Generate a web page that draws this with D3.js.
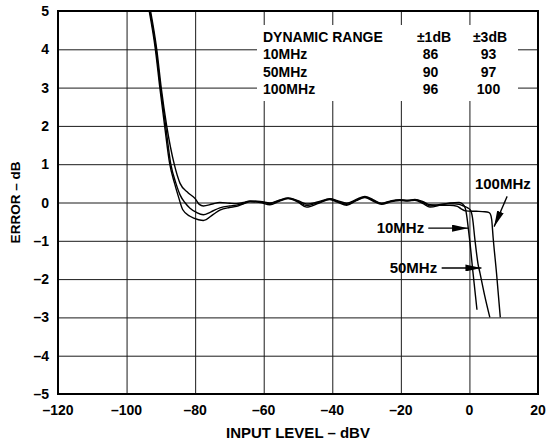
<!DOCTYPE html>
<html><head><meta charset="utf-8">
<script src="https://cdn.jsdelivr.net/npm/d3@7"></script>
<style>body{margin:0;background:#fff}</style>
</head><body>
<svg id="chart" width="548" height="442"></svg>
<script>
// ---- data ----
const xTicks = [-120, -100, -80, -60, -40, -20, 0, 20];
const yTicks = [5, 4, 3, 2, 1, 0, -1, -2, -3, -4, -5];

const series10MHz = [[-93.4,5.0],[-91.6,4.0],[-90.3,3.0],[-88.9,2.0],[-87.4,1.0],[-86.0,0.5],[-84.9,0.16],[-83.6,-0.19],[-81.5,-0.36],[-79.0,-0.45],[-77.6,-0.47],[-74.7,-0.31],[-72.8,-0.2],[-70,-0.13],[-67.9,-0.1],[-66,-0.04],[-64,0.02],[-61,0.0],[-58.2,-0.06],[-55.5,0.03],[-52.9,0.1],[-50,0.01],[-47.5,-0.12],[-44,-0.02],[-40.7,0.08],[-38.5,0.01],[-35.8,-0.07],[-33,0.05],[-30.5,0.13],[-28,0.03],[-25.6,-0.05],[-23,0.02],[-20.3,0.05],[-18,0.04],[-15.9,0.06],[-13.5,-0.03],[-11.5,-0.12],[-8.5,-0.07],[-5.7,-0.01],[-3,0.0],[-2.0,-0.04],[-1.2,-0.15],[-0.7,-0.4],[-0.3,-0.7],[0.1,-1.0],[1.0,-1.8],[2.2,-2.8]];

const series50MHz = [[-93.2,5.0],[-91.4,4.0],[-90.1,3.0],[-88.6,2.0],[-87.1,1.0],[-85.6,0.5],[-84.4,0.2],[-83.0,0.0],[-81.5,-0.15],[-79.6,-0.26],[-77.6,-0.32],[-75.5,-0.25],[-72.8,-0.14],[-70,-0.09],[-67.9,-0.07],[-66,-0.02],[-64,0.03],[-61,0.02],[-58.2,-0.03],[-55.5,0.05],[-52.9,0.11],[-50,0.03],[-47.5,-0.08],[-44,0.0],[-40.7,0.09],[-38.5,0.03],[-35.8,-0.05],[-33,0.06],[-30.5,0.14],[-28,0.05],[-25.6,-0.03],[-23,0.03],[-20.3,0.06],[-18,0.05],[-15.9,0.07],[-13.5,0.0],[-11.5,-0.09],[-8.5,-0.05],[-5.7,-0.03],[-3,-0.05],[-1.5,-0.1],[-0.5,-0.14],[0.3,-0.2],[0.9,-0.4],[1.6,-0.97],[2.5,-1.6],[3.1,-1.85],[4.5,-2.45],[5.95,-3.0]];

const series100MHz = [[-93.0,5.0],[-91.2,4.0],[-89.9,3.0],[-88.3,2.0],[-86.1,1.0],[-84.4,0.5],[-82.0,0.25],[-80.0,0.1],[-78.8,-0.05],[-77.6,-0.09],[-75,-0.04],[-72.8,0.0],[-70,-0.02],[-67.9,-0.03],[-66,0.0],[-64,0.04],[-61,0.03],[-58.2,-0.01],[-55.5,0.06],[-52.9,0.12],[-50,0.05],[-47.5,-0.04],[-44,0.02],[-40.7,0.1],[-38.5,0.05],[-35.8,-0.02],[-33,0.08],[-30.5,0.16],[-28,0.07],[-25.6,-0.02],[-23,0.04],[-20.3,0.07],[-18,0.06],[-15.9,0.08],[-13.5,0.02],[-11.5,-0.06],[-8.5,-0.07],[-5.7,-0.07],[-3.5,-0.1],[-2.5,-0.16],[-1,-0.22],[2,-0.23],[4.5,-0.24],[5.6,-0.26],[6.1,-0.3],[6.5,-0.45],[6.9,-0.9],[7.9,-1.84],[9.0,-3.0]];

const legendHeader = ["DYNAMIC RANGE", "±1dB", "±3dB"];
const legendRows = ["10MHz", "50MHz", "100MHz"];
const range1dB = [86, 90, 96];
const range3dB = [93, 97, 100];

const curveLabels = ["10MHz", "50MHz", "100MHz"];

// ---- layout ----
const svg = d3.select("#chart");
const L = 58, R = 538, T = 11, B = 394;
const x = d3.scaleLinear().domain([-120, 20]).range([L, R]);
const y = d3.scaleLinear().domain([-5, 5]).range([B, T]);
const fmt = d => d < 0 ? "\u2013" + Math.abs(d) : String(d);
const FONT = "Liberation Sans";

function addText(parent, size) {
  return parent.append("text").attr("font-family", FONT).attr("font-weight", "bold")
    .attr("font-size", size).attr("fill", "#000");
}

// grid (drawn through the axis generators' tick positions)
const gx = svg.append("g").attr("transform", `translate(0,${B})`)
  .call(d3.axisBottom(x).tickValues(xTicks).tickSize(-(B - T)).tickFormat(""));
gx.select(".domain").remove();
gx.selectAll("text").remove();
gx.selectAll("line").attr("stroke", "#1a1a1a").attr("stroke-width", 1);

const gy = svg.append("g").attr("transform", `translate(${L},0)`)
  .call(d3.axisLeft(y).tickValues(yTicks).tickSize(-(R - L)).tickFormat(""));
gy.select(".domain").remove();
gy.selectAll("text").remove();
gy.selectAll("line").attr("stroke", "#1a1a1a").attr("stroke-width", 1);

// legend background covering grid
svg.append("rect").attr("x", 257).attr("y", 25).attr("width", 261).attr("height", 76).attr("fill", "#fff");

// frame
svg.append("rect").attr("x", L).attr("y", T).attr("width", R - L).attr("height", B - T)
  .attr("fill", "none").attr("stroke", "#000").attr("stroke-width", 2);

// tick labels
const xl = svg.append("g");
xTicks.forEach(t => {
  addText(xl, 14).attr("x", x(t)).attr("y", 415).attr("text-anchor", "middle").text(fmt(t));
});
const yl = svg.append("g");
yTicks.forEach(t => {
  addText(yl, 14).attr("x", L - 9).attr("y", y(t)).attr("dy", "0.36em").attr("text-anchor", "end").text(fmt(t));
});

// axis titles
addText(svg, 15).attr("x", (L + R) / 2).attr("y", 438).attr("text-anchor", "middle")
  .text("INPUT LEVEL \u2013 dBV");
addText(svg, 13.5).attr("transform", `translate(20,${(T + B) / 2}) rotate(-90)`)
  .attr("text-anchor", "middle").text("ERROR \u2013 dB");

// curves
const line = d3.line().x(d => x(d[0])).y(d => y(d[1])).curve(d3.curveMonotoneX);
[series10MHz, series50MHz, series100MHz].forEach(s => {
  svg.append("path").datum(s).attr("d", line).attr("fill", "none")
    .attr("stroke", "#000").attr("stroke-width", 1.4);
});

// legend table
const lg = svg.append("g");
addText(lg, 14).attr("x", 263).attr("y", 42).text(legendHeader[0]);
addText(lg, 14).attr("x", 434).attr("y", 42).attr("text-anchor", "middle").text(legendHeader[1]);
addText(lg, 14).attr("x", 490).attr("y", 42).attr("text-anchor", "middle").text(legendHeader[2]);
const rowY = [59, 77, 94];
legendRows.forEach((r, i) => {
  addText(lg, 14).attr("x", 263).attr("y", rowY[i]).text(r);
  addText(lg, 14).attr("x", 430.5).attr("y", rowY[i]).attr("text-anchor", "middle").text(range1dB[i]);
  addText(lg, 14).attr("x", 488.5).attr("y", rowY[i]).attr("text-anchor", "middle").text(range3dB[i]);
});

// arrow marker
svg.append("defs").append("marker").attr("id", "ah").attr("viewBox", "0 0 16 7")
  .attr("refX", 16).attr("refY", 3.5).attr("markerWidth", 16).attr("markerHeight", 7)
  .attr("markerUnits", "userSpaceOnUse").attr("orient", "auto")
  .append("path").attr("d", "M0,0 L16,3.5 L0,7 Z").attr("fill", "#000");

// annotations (data coordinates)
const ann = [
  {label: curveLabels[0], lx: -13.2, ly: -0.67, anchor: "end", x1: -12.0, y1: -0.67, x2: -0.4, y2: -0.67},
  {label: curveLabels[1], lx: -9.4, ly: -1.71, anchor: "end", x1: -8.1, y1: -1.71, x2: 3.5, y2: -1.71},
  {label: curveLabels[2], lx: 1.6, ly: 0.48, anchor: "start", x1: 11.0, y1: 0.16, x2: 7.2, y2: -0.63}
];
ann.forEach(a => {
  addText(svg, 15).attr("x", x(a.lx)).attr("y", y(a.ly)).attr("dy", "0.35em")
    .attr("text-anchor", a.anchor).text(a.label);
  svg.append("line").attr("x1", x(a.x1)).attr("y1", y(a.y1)).attr("x2", x(a.x2)).attr("y2", y(a.y2))
    .attr("stroke", "#000").attr("stroke-width", 1.3).attr("marker-end", "url(#ah)");
});
</script>
</body></html>
